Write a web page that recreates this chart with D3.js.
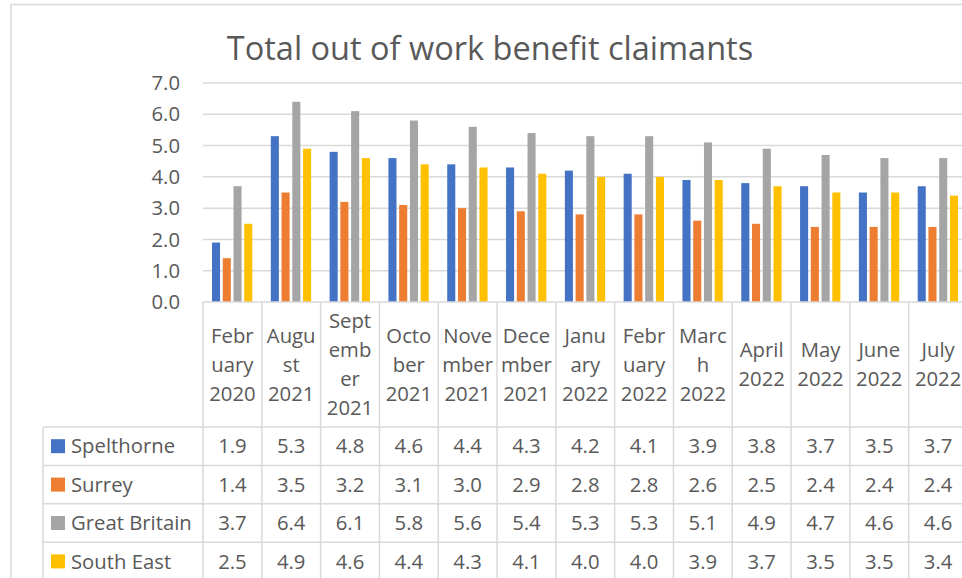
<!DOCTYPE html>
<html>
<head>
<meta charset="utf-8">
<script src="https://cdn.jsdelivr.net/npm/d3@7"></script>
<style>
  html, body { margin: 0; padding: 0; background: #fff; }
  svg text { font-family: "Open Sans", sans-serif; fill: #595959; }
</style>
</head>
<body>
<svg id="chart"></svg>
<script>
// Total out of work benefit claimants - clustered columns with data table underneath

const categories = ["February 2020", "August 2021", "September 2021", "October 2021", "November 2021",
    "December 2021", "January 2022", "February 2022", "March 2022", "April 2022", "May 2022", "June 2022", "July 2022"];

// header cells wrap the way the original does
const categoryLines = [
    ["Febr", "uary", "2020"], ["Augu", "st", "2021"], ["Sept", "emb", "er", "2021"], ["Octo", "ber", "2021"],
    ["Nove", "mber", "2021"], ["Dece", "mber", "2021"], ["Janu", "ary", "2022"], ["Febr", "uary", "2022"],
    ["Marc", "h", "2022"], ["April", "2022"], ["May", "2022"], ["June", "2022"], ["July", "2022"]
];

const seriesNames = ["Spelthorne", "Surrey", "Great Britain", "South East"];
const seriesColors = ["#4472C4", "#ED7D31", "#A5A5A5", "#FFC000"];

const spelthorne = [1.9, 5.3, 4.8, 4.6, 4.4, 4.3, 4.2, 4.1, 3.9, 3.8, 3.7, 3.5, 3.7];
const surrey = [1.4, 3.5, 3.2, 3.1, 3.0, 2.9, 2.8, 2.8, 2.6, 2.5, 2.4, 2.4, 2.4];
const greatBritain = [3.7, 6.4, 6.1, 5.8, 5.6, 5.4, 5.3, 5.3, 5.1, 4.9, 4.7, 4.6, 4.6];
const southEast = [2.5, 4.9, 4.6, 4.4, 4.3, 4.1, 4.0, 4.0, 3.9, 3.7, 3.5, 3.5, 3.4];

const yTicks = [0, 1, 2, 3, 4, 5, 6, 7];

const seriesValues = [spelthorne, surrey, greatBritain, southEast];

const width = 962;
const height = 578;

const svg = d3.select("#chart")
    .attr("width", width)
    .attr("height", height);

const gridColor = "#d9d9d9";
const fontSize = 20.3;

// chart area border (runs off the right and bottom)
svg.append("rect")
    .attr("x", 11).attr("y", 4.5)
    .attr("width", 990).attr("height", 620)
    .attr("fill", "#fff")
    .attr("stroke", gridColor)
    .attr("stroke-width", 1.5);

svg.append("text")
    .attr("x", 490)
    .attr("y", 60)
    .attr("text-anchor", "middle")
    .style("font-size", "32.5px")
    .text("Total out of work benefit claimants");

const x0 = d3.scaleBand()
    .domain(categories)
    .range([203, 967.5])
    .padding(0);

const x1 = d3.scaleBand()
    .domain(seriesNames)
    .range([9, x0.bandwidth() - 9.5])
    .paddingInner(0.25);

const y = d3.scaleLinear()
    .domain([0, 7])
    .range([302, 83]);

// gridlines
svg.append("g")
    .selectAll("line")
    .data(yTicks.slice(1))
    .join("line")
    .attr("x1", 203).attr("x2", width)
    .attr("y1", d => y(d)).attr("y2", d => y(d))
    .attr("stroke", gridColor)
    .attr("stroke-width", 1.5);

// y labels
svg.append("g")
    .selectAll("text")
    .data(yTicks)
    .join("text")
    .attr("x", 180)
    .attr("y", d => y(d))
    .attr("dy", "0.35em")
    .attr("text-anchor", "end")
    .style("font-size", fontSize + "px")
    .text(d => d3.format(".1f")(d));

// bars
const groups = svg.append("g")
    .selectAll("g")
    .data(categories)
    .join("g")
    .attr("transform", d => `translate(${x0(d)},0)`);

groups.selectAll("rect")
    .data((d, i) => seriesNames.map((s, j) => ({ s, j, v: seriesValues[j][i] })))
    .join("rect")
    .attr("x", d => x1(d.s))
    .attr("width", x1.bandwidth())
    .attr("y", d => y(d.v))
    .attr("height", d => y(0) - y(d.v))
    .attr("fill", d => seriesColors[d.j]);

// data table
const headerTop = 302;
const headerBottom = 427;
const rowH = 38.4;
const tableLeft = 43;
const tableRight = width;

const table = svg.append("g");

// axis line / top of header
table.append("line")
    .attr("x1", 203).attr("x2", tableRight)
    .attr("y1", headerTop).attr("y2", headerTop)
    .attr("stroke", gridColor).attr("stroke-width", 1.5);

// row lines
d3.range(5).forEach(r => {
    const yy = headerBottom + r * rowH;
    table.append("line")
        .attr("x1", tableLeft).attr("x2", tableRight)
        .attr("y1", yy).attr("y2", yy)
        .attr("stroke", gridColor).attr("stroke-width", 1.5);
});

// column dividers
const dividers = categories.map(c => x0(c)).concat([x0(categories[categories.length - 1]) + x0.bandwidth()]);
table.selectAll("line.div")
    .data(dividers)
    .join("line")
    .attr("class", "div")
    .attr("x1", d => d).attr("x2", d => d)
    .attr("y1", headerTop).attr("y2", height + 10)
    .attr("stroke", gridColor).attr("stroke-width", 1.5);

table.append("line")
    .attr("x1", tableLeft).attr("x2", tableLeft)
    .attr("y1", headerBottom).attr("y2", height + 10)
    .attr("stroke", gridColor).attr("stroke-width", 1.5);

// header labels
const lineH = 29;
const headerMid = (headerTop + headerBottom) / 2;
categories.forEach((c, i) => {
    const lines = categoryLines[i];
    const t = table.append("text")
        .attr("text-anchor", "middle")
        .style("font-size", fontSize + "px");
    lines.forEach((ln, k) => {
        t.append("tspan")
            .attr("x", x0(c) + x0.bandwidth() / 2)
            .attr("y", headerMid + (k - (lines.length - 1) / 2) * lineH)
            .attr("dy", "0.35em")
            .text(ln);
    });
});

// series rows
seriesNames.forEach((s, j) => {
    const cy = headerBottom + j * rowH + rowH / 2;
    table.append("rect")
        .attr("x", 51).attr("y", cy - 7)
        .attr("width", 14).attr("height", 14)
        .attr("fill", seriesColors[j]);
    table.append("text")
        .attr("x", 71).attr("y", cy)
        .attr("dy", "0.35em")
        .style("font-size", fontSize + "px")
        .text(s);
    table.append("g")
        .selectAll("text")
        .data(seriesValues[j])
        .join("text")
        .attr("x", (d, i) => x0(categories[i]) + x0.bandwidth() / 2)
        .attr("y", cy)
        .attr("dy", "0.35em")
        .attr("text-anchor", "middle")
        .style("font-size", fontSize + "px")
        .text(d => d3.format(".1f")(d));
});
</script>
</body>
</html>
